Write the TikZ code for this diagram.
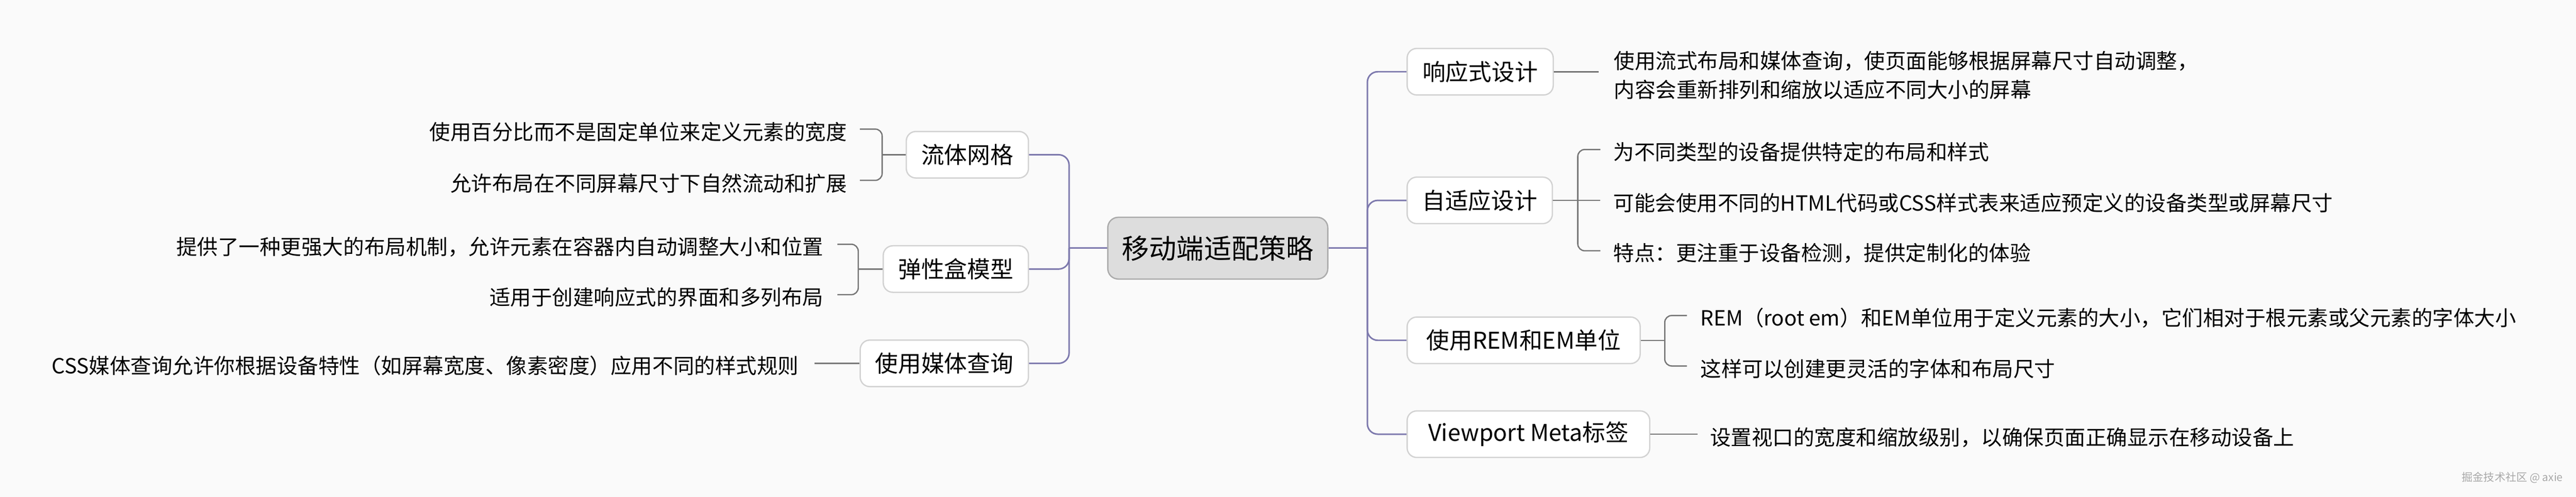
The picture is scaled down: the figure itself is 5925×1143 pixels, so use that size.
\documentclass[tikz,border=0pt]{standalone}
\usepackage{fontspec}
\setmainfont{Noto Sans CJK SC}
\usetikzlibrary{calc}
\definecolor{bg}{HTML}{FAFAFA}
\definecolor{purp}{HTML}{7D79AD}
\definecolor{leafline}{HTML}{767676}
\definecolor{boxline}{HTML}{D2D2D2}
\definecolor{rootfill}{HTML}{DDDDDD}
\definecolor{rootline}{HTML}{ABABAB}
\definecolor{wmgray}{HTML}{A8A8A8}
\begin{document}
\begin{tikzpicture}[x=1pt,y=-1pt,
  topic/.style={draw=boxline, line width=3pt, fill=white, rounded corners=22pt,
    minimum height=107pt, inner xsep=0pt, inner ysep=0pt,
    font=\fontsize{53}{60}\selectfont},
  root/.style={draw=rootline, fill=rootfill, line width=3pt, rounded corners=24pt,
    minimum width=506pt, minimum height=142pt, inner sep=0pt,
    font=\fontsize{63}{70}\selectfont},
  leaf/.style={inner sep=0pt, font=\fontsize{48}{66}\selectfont},
  mainline/.style={draw=purp, line width=3.5pt, rounded corners=24pt},
  subline/.style={draw=leafline, line width=3pt, rounded corners=16pt},
]
\fill[bg] (0,0) rectangle (5925,1143);
\useasboundingbox (0,0) rectangle (5925,1143);

% root
\node[root] (C) at (2801,571) {移动端适配策略};

% left topics
\node[topic, anchor=east, minimum width=281pt] (L1) at (2367,356) {流体网格};
\node[topic, anchor=east, minimum width=334pt] (L2) at (2367,619) {弹性盒模型};
\node[topic, anchor=east, minimum width=387pt] (L3) at (2367,836) {使用媒体查询};

% right topics
\node[topic, anchor=west, minimum width=336pt] (R1) at (3235,165) {响应式设计};
\node[topic, anchor=west, minimum width=334pt] (R2) at (3235,461) {自适应设计};
\node[topic, anchor=west, minimum width=536pt] (R3) at (3235,783) {使用REM和EM单位};
\node[topic, anchor=west, minimum width=558pt] (R4) at (3235,999) {Viewport Meta标签};

% left leaves
\node[leaf, anchor=east] (a1) at (1948,304) {使用百分比而不是固定单位来定义元素的宽度};
\node[leaf, anchor=east] (a2) at (1948,422) {允许布局在不同屏幕尺寸下自然流动和扩展};
\node[leaf, anchor=east] (b1) at (1894,568) {提供了一种更强大的布局机制，允许元素在容器内自动调整大小和位置};
\node[leaf, anchor=east] (b2) at (1894,684) {适用于创建响应式的界面和多列布局};
\node[leaf, anchor=east] (c1) at (1837,842) {CSS媒体查询允许你根据设备特性（如屏幕宽度、像素密度）应用不同的样式规则};

% right leaves
\node[leaf, anchor=west, align=left] (d1) at (3712,173) {使用流式布局和媒体查询，使页面能够根据屏幕尺寸自动调整，\\内容会重新排列和缩放以适应不同大小的屏幕};
\node[leaf, anchor=west] (e1) at (3711,350) {为不同类型的设备提供特定的布局和样式};
\node[leaf, anchor=west] (e2) at (3711,467) {可能会使用不同的HTML代码或CSS样式表来适应预定义的设备类型或屏幕尺寸};
\node[leaf, anchor=west] (e3) at (3711,583) {特点：更注重于设备检测，提供定制化的体验};
\node[leaf, anchor=west] (f1) at (3911,731) {REM（root em）和EM单位用于定义元素的大小，它们相对于根元素或父元素的字体大小};
\node[leaf, anchor=west] (f2) at (3911,848) {这样可以创建更灵活的字体和布局尺寸};
\node[leaf, anchor=west] (g1) at (3933,1006) {设置视口的宽度和缩放级别，以确保页面正确显示在移动设备上};

% watermark
\node[inner sep=0pt, anchor=east, text=wmgray, font=\fontsize{25}{28}\selectfont] (wm) at (5895,1099) {掘金技术社区 @ axie};

% main connectors
\coordinate (ls) at (2459,571);
\coordinate (rs) at (3145,571);
\draw[mainline] (C.west) -- (ls);
\draw[mainline] (ls) |- (L1.east);
\draw[mainline] (ls) |- (L2.east);
\draw[mainline] (ls) |- (L3.east);
\draw[mainline] (C.east) -- (rs);
\draw[mainline] (rs) |- (R1.west);
\draw[mainline] (rs) |- (R2.west);
\draw[mainline] (rs) |- (R3.west);
\draw[mainline] (rs) |- (R4.west);

% left sub connectors
\coordinate (kL1) at ($(L1.west)+(-54,0)$);
\draw[subline] (L1.west) -- (kL1);
\draw[subline] (kL1) |- ($(a1.east)+(30,-7)$);
\draw[subline] (kL1) |- ($(a2.east)+(30,-7)$);
\coordinate (kL2) at ($(L2.west)+(-56,0)$);
\draw[subline] (L2.west) -- (kL2);
\draw[subline] (kL2) |- ($(b1.east)+(32,-6)$);
\draw[subline] (kL2) |- ($(b2.east)+(32,-6)$);
\draw[subline] (L3.west) -- ($(c1.east |- L3.west)+(36,0)$);

% right sub connectors
\draw[subline] (R1.east) -- ($(d1.west |- R1.east)+(-35,0)$);
\coordinate (kR2) at ($(R2.east)+(57,0)$);
\draw[subline] (R2.east) -- (kR2);
\draw[subline] (kR2) |- ($(e1.west)+(-30,-6)$);
\draw[subline] (kR2) -- ($(e2.west |- R2.east)+(-30,0)$);
\draw[subline] (kR2) |- ($(e3.west)+(-30,-6)$);
\coordinate (kR3) at ($(R3.east)+(55,0)$);
\draw[subline] (R3.east) -- (kR3);
\draw[subline] (kR3) |- ($(f1.west)+(-31,-5)$);
\draw[subline] (kR3) |- ($(f2.west)+(-31,-6)$);
\draw[subline] (R4.east) -- ($(g1.west |- R4.east)+(-29,0)$);
\end{tikzpicture}
\end{document}
